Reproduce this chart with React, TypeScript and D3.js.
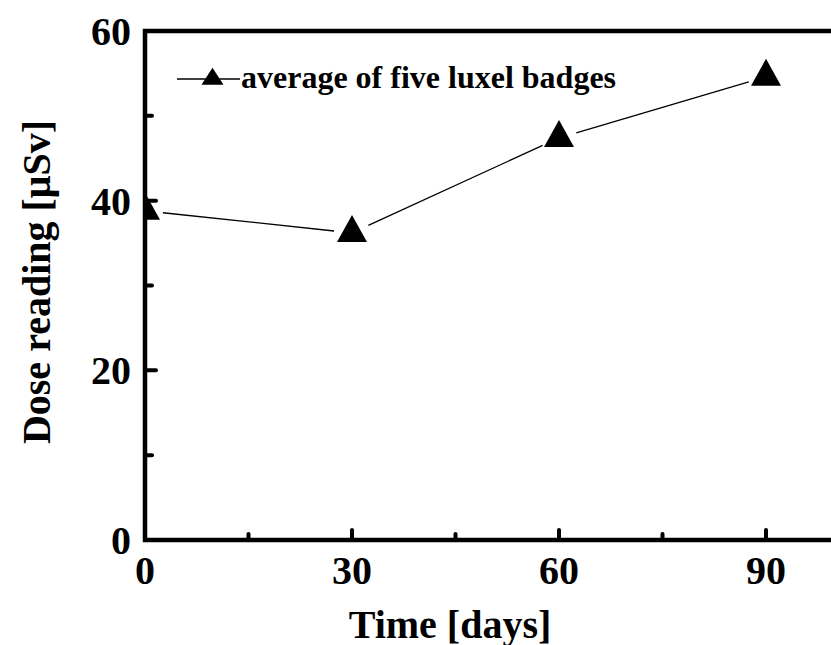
import React from "react";
import * as d3 from "d3";

const days = [0, 30, 60, 90];
const dose = [38.8, 36.2, 47.4, 54.6];
const xTicks = [0, 30, 60, 90];
const xMinor = [15, 45, 75];
const yTicks = [0, 20, 40, 60];
const yMinor = [10, 30, 50];
const seriesName = "average of five luxel badges";
const xTitle = "Time [days]";
const yTitle = "Dose reading [\u03bcSv]";

const W = 831;
const H = 645;
const FONT = "'Liberation Serif', 'Times New Roman', Times, serif";

export default function App() {
  const x = d3.scaleLinear().domain([0, 100]).range([145, 835]);
  const y = d3.scaleLinear().domain([0, 60]).range([540, 31]);
  const pts = days.map((d, i) => [x(d), y(dose[i])] as [number, number]);
  const trim = 18;
  const segs = pts.slice(1).map((p, i) => {
    const a = pts[i];
    const dx = p[0] - a[0];
    const dy = p[1] - a[1];
    const L = Math.hypot(dx, dy);
    const ux = dx / L;
    const uy = dy / L;
    return [
      [a[0] + ux * trim, a[1] + uy * trim],
      [p[0] - ux * trim, p[1] - uy * trim],
    ];
  });
  const tri = (cx: number, cy: number, w: number, h: number) =>
    `M${cx},${cy - (h * 2) / 3}L${cx + w / 2},${cy + h / 3}L${cx - w / 2},${cy + h / 3}Z`;
  const line = d3.line();
  const left = x(0);
  const bottom = y(0);
  const top = y(60);
  const right = x(100);
  return (
    <svg
      width={W}
      height={H}
      style={{ position: "absolute", left: 0, top: 0, background: "#fff" }}
      fontFamily={FONT}
      fontWeight="bold"
    >
      <defs>
        <clipPath id="plotclip">
          <rect x={left} y={top} width={right - left} height={bottom - top} />
        </clipPath>
      </defs>
      <rect x={0} y={0} width={W} height={H} fill="#fff" />
      {/* data line */}
      <g clipPath="url(#plotclip)">
        {segs.map((s, i) => (
          <path key={i} d={line(s as [number, number][]) || ""} stroke="#000" strokeWidth={1.3} fill="none" />
        ))}
        {pts.map((p, i) => (
          <path key={i} d={tri(p[0], p[1], 30, 27)} fill="#000" />
        ))}
      </g>
      {/* ticks */}
      {yTicks.map((t) => (
        <line key={"ym" + t} x1={left} x2={left + 11} y1={y(t)} y2={y(t)} stroke="#000" strokeWidth={4} strokeLinecap="round" />
      ))}
      {yMinor.map((t) => (
        <line key={"yn" + t} x1={left} x2={left + 7} y1={y(t)} y2={y(t)} stroke="#000" strokeWidth={4} strokeLinecap="round" />
      ))}
      {xTicks.map((t) => (
        <line key={"xm" + t} x1={x(t)} x2={x(t)} y1={bottom} y2={bottom - 10} stroke="#000" strokeWidth={4} strokeLinecap="round" />
      ))}
      {xMinor.map((t) => (
        <line key={"xn" + t} x1={x(t)} x2={x(t)} y1={bottom} y2={bottom - 6} stroke="#000" strokeWidth={4} strokeLinecap="round" />
      ))}
      {/* frame */}
      <path
        d={`M${right},${top}L${left},${top}L${left},${bottom}L${right},${bottom}Z`}
        fill="none"
        stroke="#000"
        strokeWidth={4.5}
        strokeLinejoin="miter"
      />
      {/* tick labels */}
      {yTicks.map((t) => (
        <text key={"yl" + t} x={131} y={y(t)} dy="0.35em" textAnchor="end" fontSize={40}>
          {t}
        </text>
      ))}
      {xTicks.map((t) => (
        <text key={"xl" + t} x={x(t)} y={584} textAnchor="middle" fontSize={40}>
          {t}
        </text>
      ))}
      {/* titles */}
      <text x={450} y={638} textAnchor="middle" fontSize={40}>
        {xTitle}
      </text>
      <text transform={`translate(50,282) rotate(-90)`} textAnchor="middle" fontSize={40}>
        {yTitle}
      </text>
      {/* legend */}
      <line x1={177} x2={240} y1={79} y2={79} stroke="#000" strokeWidth={1.3} />
      <path d={tri(212.5, 79, 22, 17)} fill="#000" />
      <text x={241} y={88} fontSize={32}>
        {seriesName}
      </text>
    </svg>
  );
}
